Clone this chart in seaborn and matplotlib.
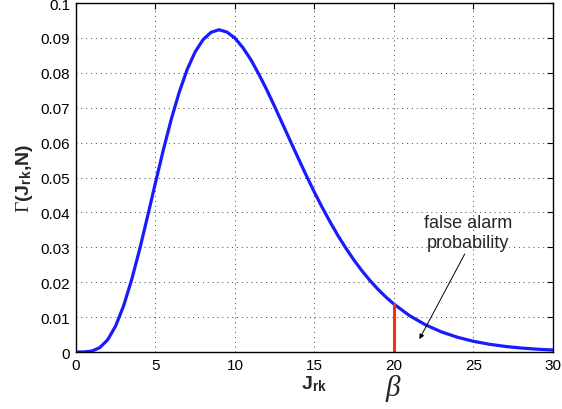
import numpy as np
import pandas as pd
import matplotlib
matplotlib.use("Agg")
import matplotlib.pyplot as plt
import seaborn as sns

# values
j_rk = [0, 0.5, 1, 1.5, 2, 2.5, 3, 3.5, 4, 4.5, 5, 5.5, 6, 6.5, 7, 7.5, 8, 8.5,
        9, 9.5, 10, 10.5, 11, 11.5, 12, 12.5, 13, 13.5, 14, 14.5, 15, 15.5, 16,
        16.5, 17, 17.5, 18, 18.5, 19, 19.5, 20, 21, 22, 23, 24, 25, 26, 27, 28,
        29, 30]
gamma_vals = [0.0, 0.00001, 0.00026, 0.00124, 0.00351, 0.00746, 0.01322, 0.02059,
              0.02925, 0.03871, 0.04843, 0.05793, 0.06673, 0.07449, 0.08100,
              0.08602, 0.08953, 0.09163, 0.09236, 0.09170, 0.08997, 0.08723,
              0.08381, 0.07966, 0.07516, 0.07034, 0.06534, 0.06032, 0.05535,
              0.05048, 0.04577, 0.04133, 0.03715, 0.03321, 0.02960, 0.02625,
              0.02321, 0.02044, 0.01795, 0.01572, 0.01372, 0.01036, 0.00775,
              0.00574, 0.00422, 0.00307, 0.00222, 0.00160, 0.00114, 0.00081,
              0.00057]
beta = 20
beta_val = 0.01372
xticks = [0, 5, 10, 15, 20, 25, 30]
yticks = [0, 0.01, 0.02, 0.03, 0.04, 0.05, 0.06, 0.07, 0.08, 0.09, 0.1]
ytick_labels = ["0", "0.01", "0.02", "0.03", "0.04", "0.05", "0.06", "0.07",
                "0.08", "0.09", "0.1"]

df = pd.DataFrame({"J": j_rk, "G": gamma_vals})

sns.set_style("white")
plt.rcParams["font.family"] = ["Liberation Sans", "DejaVu Sans"]
plt.rcParams["mathtext.fontset"] = "custom"
plt.rcParams["mathtext.rm"] = "Liberation Serif"
plt.rcParams["mathtext.it"] = "Liberation Serif:italic"
plt.rcParams["mathtext.bf"] = "Liberation Sans:bold"
plt.rcParams["mathtext.sf"] = "Liberation Sans:bold"

fig = plt.figure(figsize=(5.62, 4.10), dpi=100)
ax = fig.add_axes([0.135, 0.139, 0.849, 0.851])

sns.lineplot(data=df, x="J", y="G", ax=ax, color="#1a1aff", linewidth=2.3)
ax.plot([beta, beta], [0, beta_val], color="#ff2a1a", linewidth=2.2)

ax.set_xlim(0, 30)
ax.set_ylim(0, 0.1)
ax.set_xticks(xticks)
ax.set_yticks(yticks)
ax.set_yticklabels(ytick_labels)
ax.tick_params(direction="in", top=True, right=True, length=4, width=0.8,
               labelsize=11, colors="black", pad=4)
ax.grid(True, linestyle=(0, (1, 4)), color="#444444", linewidth=0.7)
for s in ax.spines.values():
    s.set_visible(True)
    s.set_color("black")
    s.set_linewidth(1.0)

ax.set_xlabel(r"J$_{\mathsf{rk}}$", fontsize=14, fontweight="bold", labelpad=1)
ax.set_ylabel(r"$\Gamma$(J$_{\mathsf{rk}}$,N)", fontsize=14, fontweight="bold",
              labelpad=4)

ax.text(beta, -0.0058, r"$\beta$", fontsize=21, ha="center", va="top",
        clip_on=False)

# annotation text + arrow pointing into the tail area
ax.text(24.65, 0.0342, "false alarm\nprobability", ha="center", va="center",
        fontsize=13, linespacing=1.25)
ax.annotate("", xy=(21.6, 0.0037), xytext=(24.45, 0.0281),
            arrowprops=dict(arrowstyle="-|>", color="black", lw=0.7,
                            mutation_scale=7, shrinkA=0, shrinkB=0))

fig.savefig("out.png", dpi=100)
